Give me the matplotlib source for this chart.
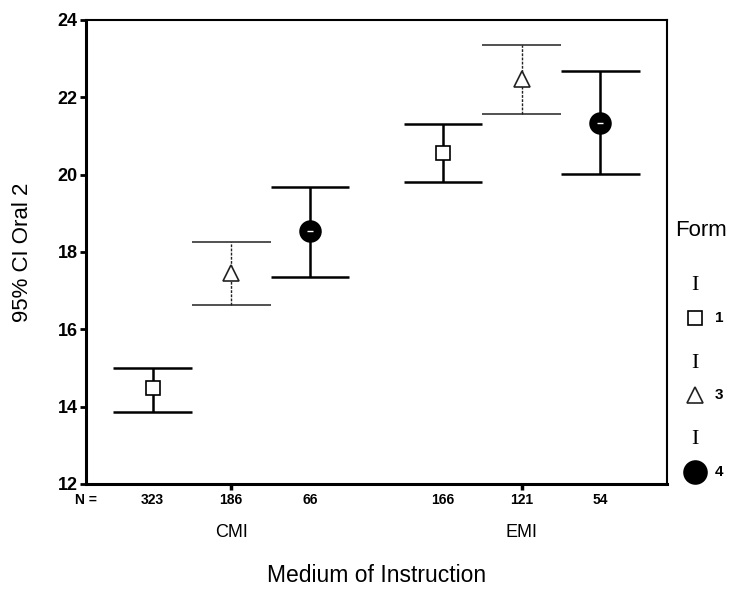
import numpy as np
import matplotlib
matplotlib.use("Agg")
import matplotlib.pyplot as plt
from matplotlib.lines import Line2D

plt.rcParams['font.family'] = ['Liberation Sans', 'DejaVu Sans']

# ---- data ----
groups = ['CMI', 'EMI']
forms = ['1', '3', '4']
n_counts = [[323, 186, 66], [166, 121, 54]]
means = [[14.48, 17.46, 18.55], [20.57, 22.47, 21.34]]
upper = [[15.01, 18.25, 19.69], [21.31, 23.35, 22.68]]
lower = [[13.87, 16.63, 17.35], [19.82, 21.56, 20.03]]

# ---- styles per form ----
group_offsets = [0.0, 3.7]
form_styles = {
    '1': dict(marker='s', ms=10, mfc='white', color='black', lw=1.8, vls='-', clw=1.8),
    '3': dict(marker='^', ms=12, mfc='white', color='#222222', lw=1.0, vls=(0, (2, 1)), clw=1.1),
    '4': dict(marker='o', ms=15, mfc='black', color='black', lw=1.8, vls='-', clw=1.8),
}
half_cap = 0.5

fig = plt.figure(figsize=(7.32, 5.99), dpi=100)
ax = fig.add_axes([86 / 732, 1 - 484 / 599, (667 - 86) / 732, (484 - 20) / 599])

for gi, g in enumerate(groups):
    for fi, f in enumerate(forms):
        x = 1 + group_offsets[gi] + fi
        st = form_styles[f]
        ax.vlines(x, lower[gi][fi], upper[gi][fi], color=st['color'],
                  lw=st['lw'], linestyles=st['vls'], zorder=2)
        ax.hlines([lower[gi][fi], upper[gi][fi]], x - half_cap, x + half_cap,
                  color=st['color'], lw=st['clw'], zorder=2)
        ax.plot(x, means[gi][fi], marker=st['marker'], ms=st['ms'], mfc=st['mfc'],
                mec=st['color'], mew=1.2, ls='none', zorder=3)
        if f == '4':
            ax.plot(x, means[gi][fi], marker='_', ms=5, mec='white', mew=1.0, zorder=4)
        ax.text(x, -0.035, str(n_counts[gi][fi]), transform=ax.get_xaxis_transform(),
                ha='center', va='center', fontsize=10, fontweight='bold')
    ax.text(1 + group_offsets[gi] + 1, -0.105, g, transform=ax.get_xaxis_transform(),
            ha='center', va='center', fontsize=13)

ax.text(0.0, -0.035, 'N =', transform=ax.transAxes, ha='center', va='center',
        fontsize=10, fontweight='bold')

ax.set_xlim(0.15, 7.55)
ax.set_ylim(12, 24)
ax.set_yticks(np.arange(12, 25, 2))
ax.tick_params(axis='y', direction='out', length=4, width=2, labelsize=13, pad=2)
for lab in ax.get_yticklabels():
    lab.set_fontweight('bold')
ax.set_xticks([1 + o + 1 for o in group_offsets])
ax.set_xticklabels([])
ax.tick_params(axis='x', direction='out', length=4, width=2.5)

for side in ['left', 'bottom']:
    ax.spines[side].set_linewidth(2.2)
for side in ['top', 'right']:
    ax.spines[side].set_linewidth(1.5)

fig.text(23 / 732, 1 - 252 / 599, '95% CI Oral 2', rotation=90, ha='center',
         va='center', fontsize=16)
fig.text(377 / 732, 1 - 576 / 599, 'Medium of Instruction', ha='center',
         va='center', fontsize=16.5)

# ---- legend drawn by hand ----
fig.text(675 / 732, 1 - 230 / 599, 'Form', ha='left', va='center', fontsize=16)
legend_y_bar = [285, 363, 440]
legend_y_mark = [318, 395, 472]
for f, yb, ym in zip(forms, legend_y_bar, legend_y_mark):
    st = form_styles[f]
    fig.text(695 / 732, 1 - yb / 599, 'I', ha='center', va='center', fontsize=16,
             family='Liberation Serif', color='black')
    fig.add_artist(Line2D([695 / 732], [1 - ym / 599], transform=fig.transFigure,
                          marker=st['marker'], ms=st['ms'] * (0.95 if f != '4' else 1.1),
                          mfc=st['mfc'], mec=st['color'], mew=1.2, ls='none'))
    fig.text(715 / 732, 1 - ym / 599, f, ha='left', va='center', fontsize=11,
             fontweight='bold')

fig.savefig('out.png', dpi=100)
